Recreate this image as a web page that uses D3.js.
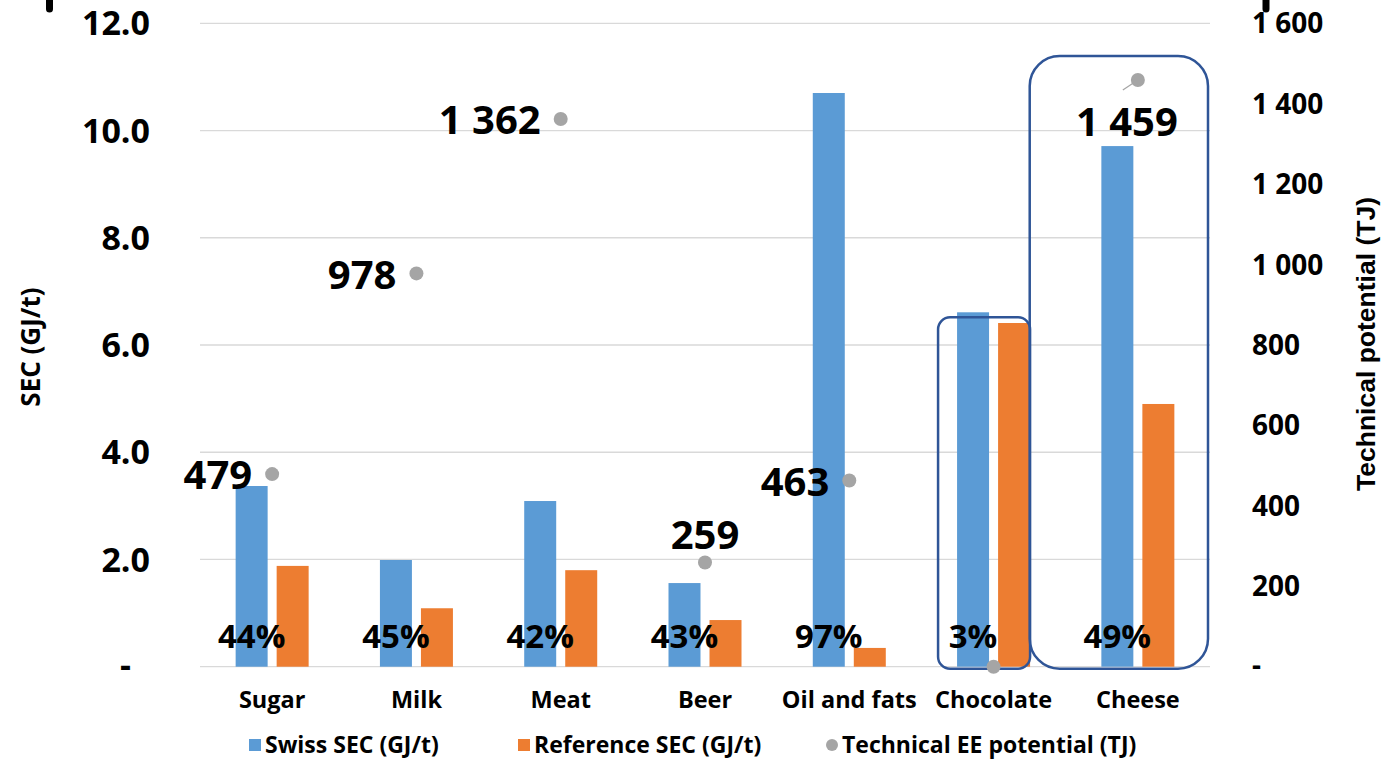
<!DOCTYPE html>
<html>
<head>
<meta charset="utf-8">
<script src="https://cdn.jsdelivr.net/npm/d3@7"></script>
<style>
  body { margin: 0; background: #fff; }
  svg { display: block; font-family: "Open Sans", sans-serif; }
</style>
</head>
<body>
<svg id="chart" width="1389" height="761"></svg>
<script>
// data
const categories = ['Sugar', 'Milk', 'Meat', 'Beer', 'Oil and fats', 'Chocolate', 'Cheese'];
const swiss_sec = [3.37, 1.99, 3.09, 1.56, 10.70, 6.61, 9.71];
const reference_sec = [1.88, 1.09, 1.80, 0.87, 0.35, 6.41, 4.90];
const ee_potential = [479, 978, 1362, 259, 463, 0, 1459];
const pct_labels = ['44%', '45%', '42%', '43%', '97%', '3%', '49%'];
const pot_labels = ['479', '978', '1 362', '259', '463', '', '1 459'];
const left_ticks = [0, 2, 4, 6, 8, 10, 12];
const right_ticks = [0, 200, 400, 600, 800, 1000, 1200, 1400, 1600];

const BLUE = '#5b9bd5', ORANGE = '#ed7d31', GREY = '#a5a5a5', BOX = '#2f5597';
const CAP = 0.714; // cap height ratio of Open Sans

const svg = d3.select('#chart');
const plot = {left: 200, right: 1210, top: 23.3, bottom: 666.7};

// scales
const x0 = d3.scaleBand().domain(categories).range([plot.left, plot.right]).padding(0);
const x1 = d3.scaleBand().domain(['swiss', 'ref'])
  .range([x0.bandwidth() / 2 - 36.5, x0.bandwidth() / 2 + 36.5]).paddingInner(0.22);
const yL = d3.scaleLinear().domain([0, 12]).range([plot.bottom, plot.top]);
const yR = d3.scaleLinear().domain([0, 1600]).range([plot.bottom, plot.top]);

// text helper: y is the visual centre of the digits
function txt(g, x, yc, s, size, anchor, weight){
  return g.append('text')
    .attr('x', x).attr('y', yc + size * CAP / 2)
    .attr('font-size', size + 'px')
    .attr('font-weight', weight || 'bold')
    .attr('text-anchor', anchor || 'middle')
    .attr('fill', '#000')
    .text(s);
}

// grid
svg.append('g').selectAll('line').data(left_ticks).join('line')
  .attr('x1', plot.left).attr('x2', plot.right)
  .attr('y1', d => yL(d)).attr('y2', d => yL(d))
  .attr('stroke', '#d9d9d9').attr('stroke-width', 1.3);

// left axis labels
const gl = svg.append('g');
left_ticks.forEach(d => {
  if(d === 0){
    txt(gl, 131, yL(d) - 2, '-', 34, 'end');
  }else{
    txt(gl, 150, yL(d), d3.format('.1f')(d), 34, 'end');
  }
});

// right axis labels
const gr = svg.append('g');
right_ticks.forEach(d => {
  let s = d === 0 ? '-' : d3.format(',')(d).replace(',', ' ');
  txt(gr, 1252, d === 0 ? yR(d) - 2 : yR(d), s, 28, 'start');
});

// axis titles
svg.append('text')
  .attr('transform', `translate(40, 347) rotate(-90)`)
  .attr('text-anchor', 'middle')
  .attr('font-size', '26px').attr('font-weight', 'bold')
  .text('SEC (GJ/t)');
svg.append('text')
  .attr('transform', `translate(1375, 344) rotate(-90)`)
  .attr('text-anchor', 'middle')
  .attr('font-family', '"Liberation Sans", Arial, sans-serif')
  .attr('font-size', '26.5px').attr('font-weight', 'bold')
  .text('Technical potential (TJ)');

// bars
const gb = svg.append('g');
categories.forEach((c, i) => {
  gb.append('rect')
    .attr('x', x0(c) + x1('swiss')).attr('width', x1.bandwidth())
    .attr('y', yL(swiss_sec[i])).attr('height', yL(0) - yL(swiss_sec[i]))
    .attr('fill', BLUE);
  gb.append('rect')
    .attr('x', x0(c) + x1('ref')).attr('width', x1.bandwidth())
    .attr('y', yL(reference_sec[i])).attr('height', yL(0) - yL(reference_sec[i]))
    .attr('fill', ORANGE);
});

// highlight boxes (chocolate, cheese)
const choc = 'Chocolate', chz = 'Cheese';
svg.append('rect')
  .attr('x', x0(choc) + x1('swiss') - 19)
  .attr('y', yL(swiss_sec[5]) + 5)
  .attr('width', x1('ref') - x1('swiss') + x1.bandwidth() + 19)
  .attr('height', yL(0) + 2 - yL(swiss_sec[5]) - 5)
  .attr('rx', 12).attr('ry', 12)
  .attr('fill', 'none').attr('stroke', BOX).attr('stroke-width', 2.5);
svg.append('rect')
  .attr('x', x0(chz) - 36)
  .attr('y', yR(ee_potential[6]) - 24)
  .attr('width', x0.bandwidth() + 34)
  .attr('height', yL(0) + 2 - yR(ee_potential[6]) + 24)
  .attr('rx', 30).attr('ry', 30)
  .attr('fill', 'none').attr('stroke', BOX).attr('stroke-width', 2.5);

// percentage labels on the blue bars
const gp = svg.append('g');
categories.forEach((c, i) => {
  txt(gp, x0(c) + x1('swiss') + x1.bandwidth() / 2, yL(0) - 30, pct_labels[i], 33, 'middle', 'bold');
});

// technical potential dots + labels
const gd = svg.append('g');
const place = ['left', 'left', 'left', 'above', 'left', 'none', 'below'];
categories.forEach((c, i) => {
  const cx = x0(c) + x0.bandwidth() / 2, cy = yR(ee_potential[i]);
  if(place[i] === 'below'){
    gd.append('line')
      .attr('x1', cx).attr('y1', cy).attr('x2', cx - 15).attr('y2', cy + 10)
      .attr('stroke', GREY).attr('stroke-width', 1.2);
  }
  gd.append('circle').attr('cx', cx).attr('cy', cy).attr('r', 7).attr('fill', GREY);
  if(place[i] === 'left') txt(gd, cx - 20, cy + 1, pot_labels[i], 40, 'end', 'bold');
  if(place[i] === 'above') txt(gd, cx, cy - 28, pot_labels[i], 40, 'middle', 'bold');
  if(place[i] === 'below') txt(gd, cx - 11, cy + 42, pot_labels[i], 40, 'middle', 'bold');
});

// category labels
const gc = svg.append('g');
categories.forEach(c => {
  txt(gc, x0(c) + x0.bandwidth() / 2, 700, c, 23.5, 'middle');
});

// legend
const legend = [
  {name: 'Swiss SEC (GJ/t)', color: BLUE, shape: 'rect', x: 249},
  {name: 'Reference SEC (GJ/t)', color: ORANGE, shape: 'rect', x: 518},
  {name: 'Technical EE potential (TJ)', color: GREY, shape: 'circle', x: 826}
];
const gleg = svg.append('g');
legend.forEach(l => {
  if(l.shape === 'rect'){
    gleg.append('rect').attr('x', l.x).attr('y', 739).attr('width', 12).attr('height', 12).attr('fill', l.color);
  }else{
    gleg.append('circle').attr('cx', l.x + 6).attr('cy', 745).attr('r', 6).attr('fill', l.color);
  }
  txt(gleg, l.x + 16, 745, l.name, 23, 'start');
});

// crop marks at the top edge
svg.append('line').attr('x1', 49.5).attr('x2', 49.5).attr('y1', 0).attr('y2', 9)
  .attr('stroke', '#000').attr('stroke-width', 7).attr('stroke-linecap', 'round');
svg.append('line').attr('x1', 1266).attr('x2', 1266).attr('y1', 0).attr('y2', 9)
  .attr('stroke', '#000').attr('stroke-width', 7).attr('stroke-linecap', 'round');
</script>
</body>
</html>
